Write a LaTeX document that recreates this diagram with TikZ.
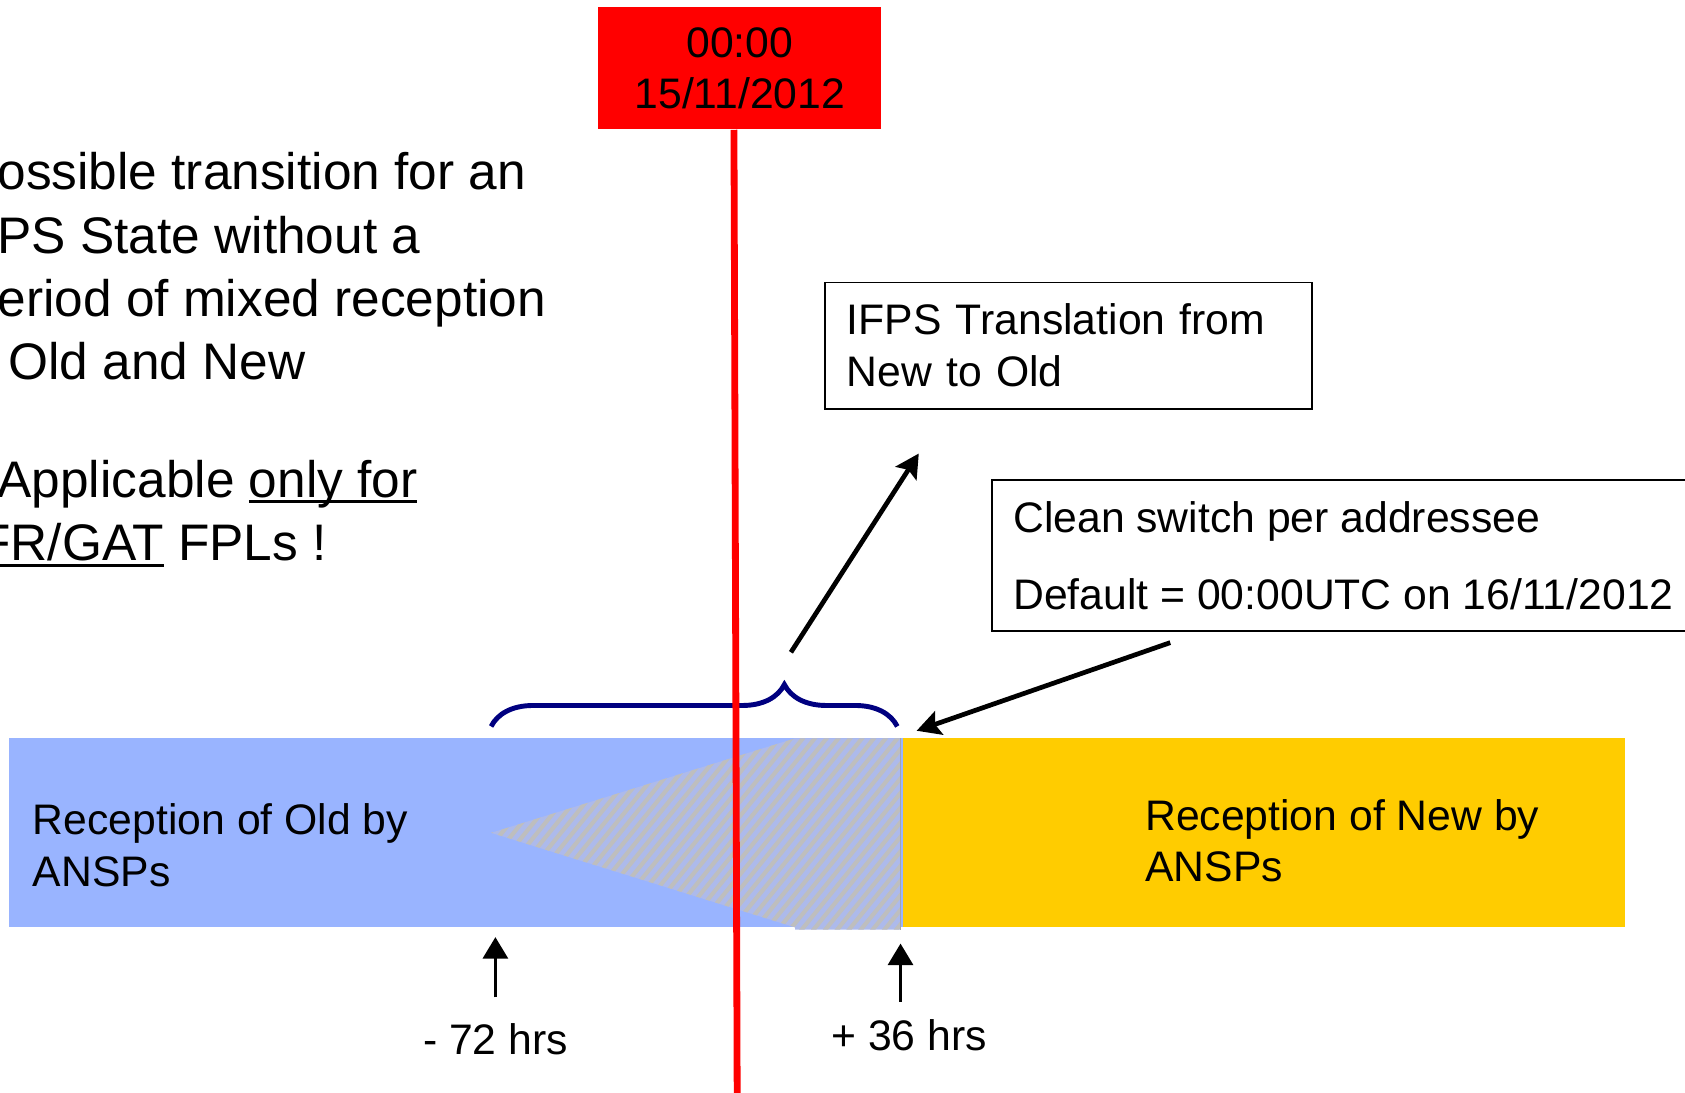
\documentclass[tikz,border=0pt]{standalone}
\usepackage{fontspec}
\setmainfont{Liberation Sans}
\usetikzlibrary{positioning,calc,arrows.meta,decorations.pathreplacing}

\definecolor{oldblue}{RGB}{153,180,255}
\definecolor{newyellow}{RGB}{255,204,0}
\definecolor{mixlav}{RGB}{173,186,235}
\definecolor{hatchgray}{RGB}{190,190,190}
\definecolor{bracenavy}{RGB}{0,0,128}

\newcommand{\ulword}[1]{\setbox0\hbox{#1}\rlap{\rule[-0.12em]{\wd0}{0.06em}}#1}

\begin{document}
\begin{tikzpicture}[x=0.01cm,y=-0.01cm,
		small/.style={font=\fontsize{11.3}{13.7}\selectfont},
		bigtext/.style={font=\fontsize{13.6}{16.8}\selectfont, inner sep=0pt, align=left, anchor=north west},
		infobox/.style={draw, line width=0.5pt, small, align=left, inner xsep=0.2cm, inner ysep=0.2cm, anchor=north west},
		callout/.style={line width=1.25pt, -{Stealth[length=0.22cm,width=0.23cm,inset=0.04cm]}},
		tickarrow/.style={line width=1pt, -{Triangle[length=0.2cm,width=0.23cm]}}]
	\useasboundingbox (0,0) rectangle (1568,1017);
	% reception bars
	\fill[oldblue] (8,687) rectangle (840,863);
	\fill[newyellow] (840,687) rectangle (1512,863);
	% mixed reception zone
	\fill[mixlav] (457,775) -- (740,687) -- (838,687) -- (838,865) -- (740,865) -- (740,863) -- cycle;
	\begin{scope}
		\clip (457,775) -- (740,687) -- (838,687) -- (838,865) -- (740,865) -- (740,863) -- cycle;
		\foreach \i in {0,...,65}
			\draw[hatchgray, line width=1.1pt] (250+11*\i,880) -- ++(170,-210);
	\end{scope}
	\draw[gray!70, line width=0.4pt] (838,687) -- (838,865);
	\node[small, anchor=north west, align=left, inner sep=0pt] (oldlbl) at (30,747) {Reception of Old by\\ANSPs};
	\node[small, anchor=north west, align=left, inner sep=0pt] (newlbl) at (1065,743) {Reception of New by\\ANSPs};
	% translation period
	\draw[bracenavy, line width=1.3pt, decorate, decoration={brace, amplitude=0.39cm, aspect=0.722}] (457,676) -- (835,676);
	% switch date
	\node[fill=red, minimum width=2.63cm, minimum height=1.13cm, small, align=center, inner sep=0pt] (stamp) at (688.5,63.5) {00:00\\15/11/2012};
	\coordinate (lineend) at (686,1017);
	\draw[red, line width=1.8pt] ($(stamp.south)+(-5.5,0)$) -- (lineend);
	% left note
	\node[bigtext] (note) at (-3,141) {ossible transition for an\\PS State without a\\eriod of mixed reception\\\hspace{0.1cm}Old and New\\[0.5cm]Applicable \ulword{only for}\\\hspace*{-0.17cm}\ulword{FR/GAT} FPLs !};
	% boxes
	\node[infobox, text width=4.13cm] (ifpsbox) at (767,262) {IFPS Translation from\\New to Old};
	\node[infobox] (cleanbox) at (922,446) {Clean switch per addressee\\[0.23cm]Default = 00:00UTC on 16/11/2012};
	\coordinate (bracetop) at (736,607);
	\coordinate (ifpsend) at (855,422);
	\coordinate (cleanstart) at (1089,598);
	\coordinate (switchpt) at (853,680);
	\draw[callout] (bracetop) -- (ifpsend);
	\draw[callout] (cleanstart) -- (switchpt);
	% time marks
	\node[small] (m72) at (461,967) {- 72 hrs};
	\node[small] (p36) at (846,963) {+ 36 hrs};
	\coordinate (m72base) at (461,928);
	\coordinate (m72tip) at (461,872);
	\coordinate (p36base) at (838,932);
	\coordinate (p36tip) at (838,878);
	\draw[tickarrow] (m72base) -- (m72tip);
	\draw[tickarrow] (p36base) -- (p36tip);
\end{tikzpicture}
\end{document}
